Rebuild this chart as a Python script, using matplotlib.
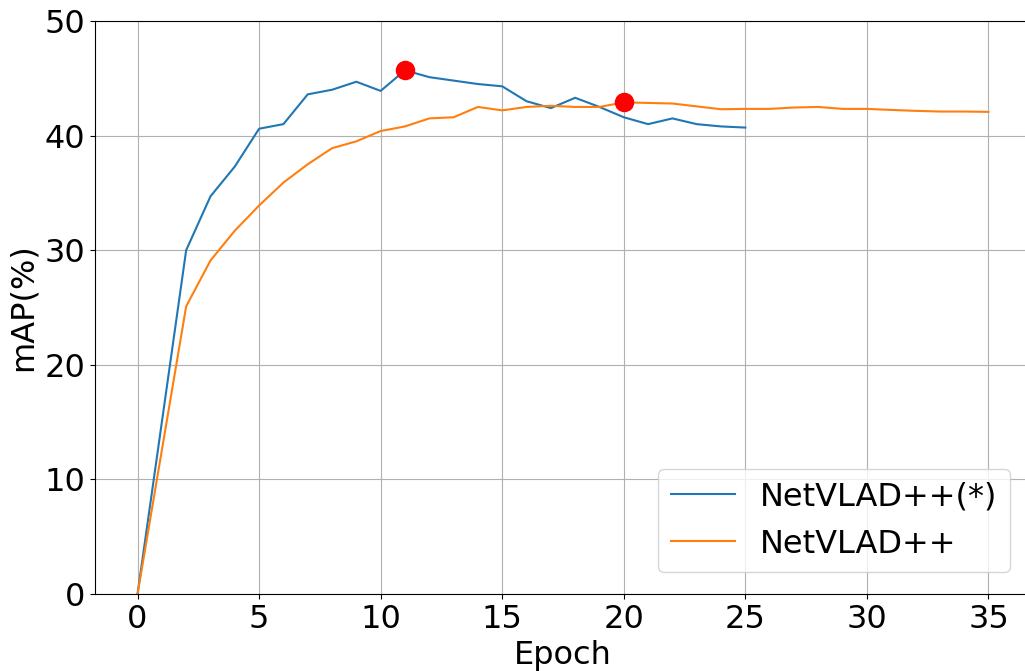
import matplotlib
matplotlib.use("Agg")
import matplotlib.pyplot as plt

epochs_a = [0, 2, 3, 4, 5, 6, 7, 8, 9, 10, 11, 12, 13, 14, 15, 16, 17, 18, 19, 20, 21, 22, 23, 24, 25]
map_a = [0, 30.0, 34.7, 37.3, 40.6, 41.0, 43.6, 44.0, 44.7, 43.9, 45.7, 45.1, 44.8, 44.5, 44.3,
         43.0, 42.4, 43.3, 42.5, 41.6, 41.0, 41.5, 41.0, 40.8, 40.7]

epochs_b = [0] + list(range(2, 36))
map_b = [0, 25.1, 29.1, 31.7, 33.9, 35.9, 37.5, 38.9, 39.5, 40.4, 40.8, 41.5, 41.6, 42.5, 42.2,
         42.5, 42.6, 42.5, 42.5, 42.9, 42.85, 42.8, 42.55, 42.3, 42.33, 42.33, 42.45, 42.5, 42.33,
         42.33, 42.24, 42.16, 42.1, 42.1, 42.07]

best_x = [11, 20]
best_y = [45.7, 42.9]

fig = plt.figure(figsize=(10.25, 6.71), dpi=100)
ax = fig.add_axes([95 / 1025, 1 - 594 / 671, 936 / 1025, 573 / 671])

ax.plot(epochs_a, map_a, color="#1f77b4", lw=1.5, label="NetVLAD++(*)")
ax.plot(epochs_b, map_b, color="#ff7f0e", lw=1.5, label="NetVLAD++")
ax.scatter(best_x, best_y, s=170, color="red", zorder=5)

ax.set_ylim(0, 50)
ax.set_xlim(-1.75, 36.75)
ax.set_xticks(range(0, 36, 5))
ax.set_yticks(range(0, 51, 10))
ax.grid(True)
ax.tick_params(labelsize=23)
ax.set_xlabel("Epoch", fontsize=23, labelpad=4)
ax.set_ylabel("mAP(%)", fontsize=23)
ax.legend(loc="lower right", fontsize=23, bbox_to_anchor=(0.995, 0.01))

fig.savefig("out.png", dpi=100)
